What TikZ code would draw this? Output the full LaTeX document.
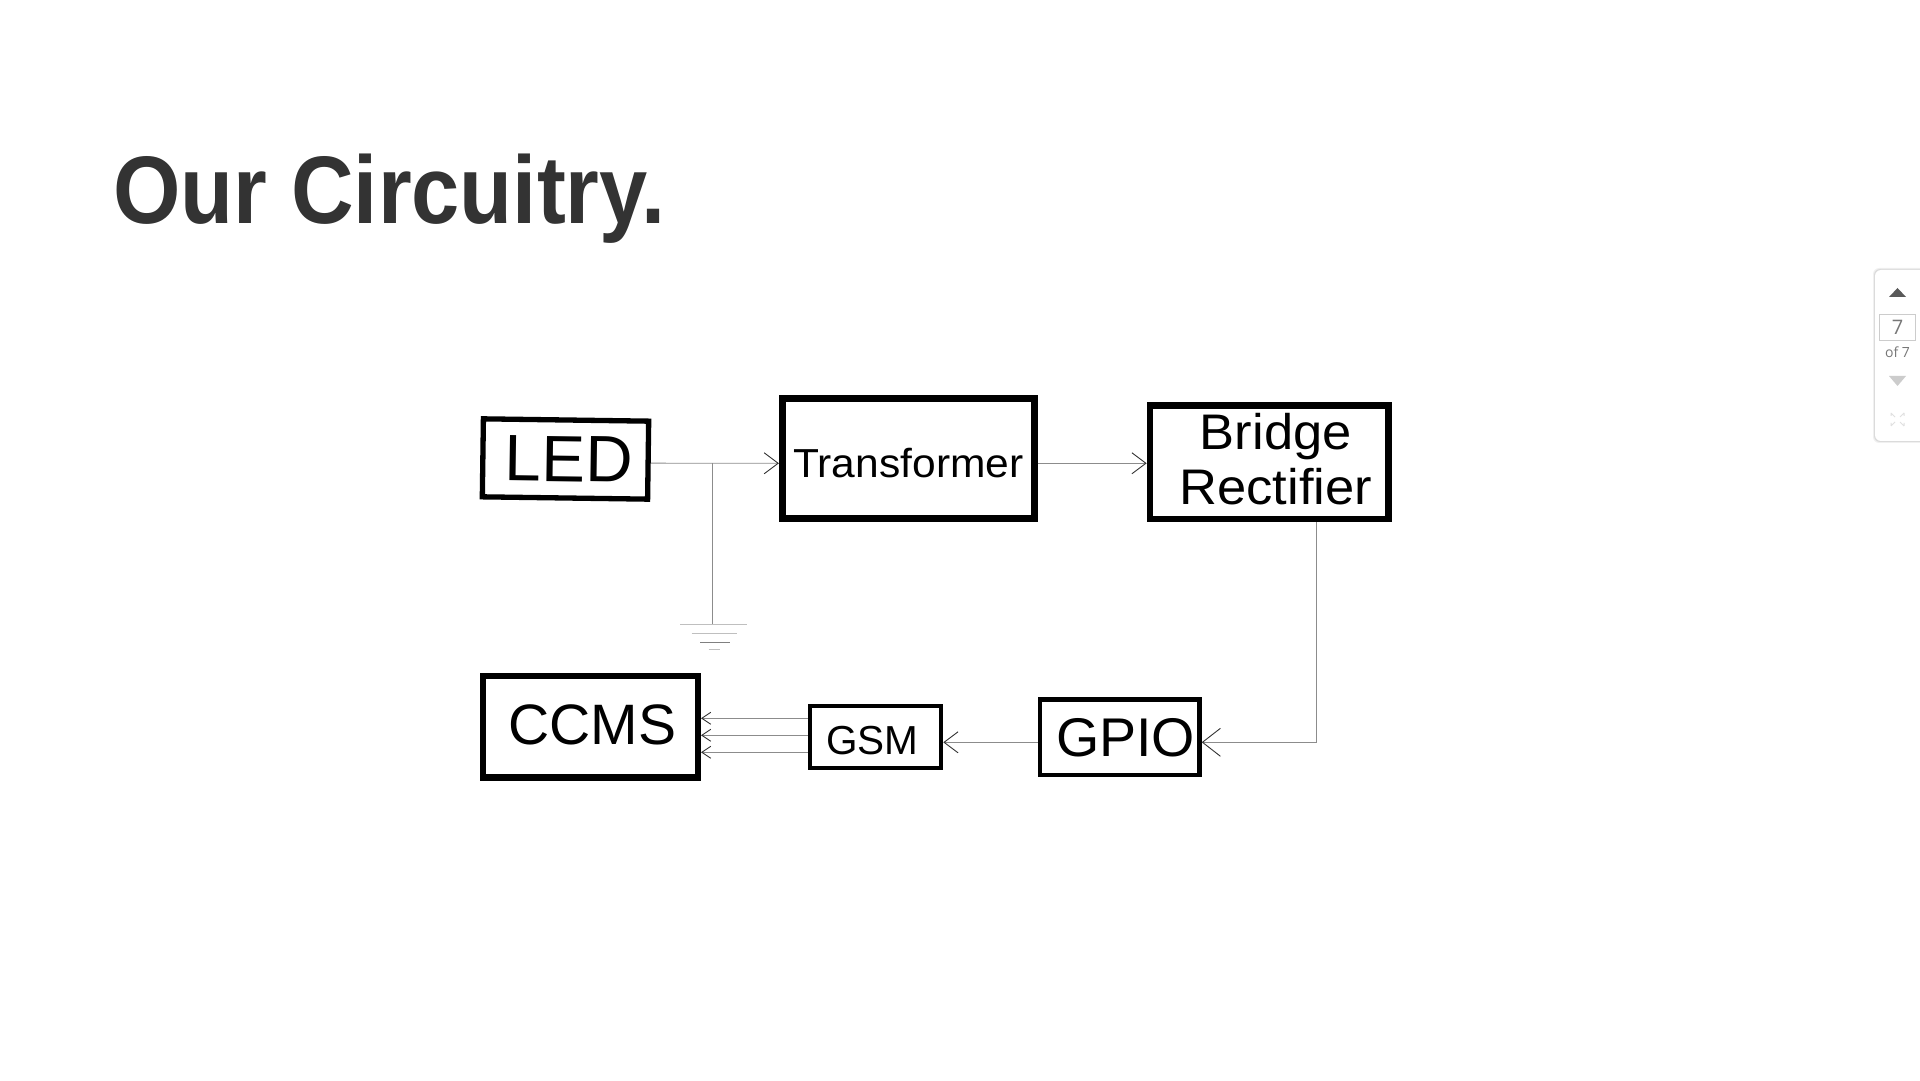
\documentclass[tikz,border=0pt]{standalone}
\usepackage{fontspec}
\usepackage{graphicx}
\usetikzlibrary{arrows.meta}
\usetikzlibrary{positioning}
\setmainfont{Liberation Sans}
\newfontfamily\panelfont{Open Sans}
\definecolor{titlegray}{HTML}{333333}
\definecolor{wiregray}{HTML}{8C8C8C}
\definecolor{tipgray}{HTML}{333333}
\definecolor{panelgray}{HTML}{777777}
\newcommand{\blocktext}[4]{\raisebox{#2}[0pt][0pt]{\makebox[0pt]{\hspace*{#1}\scalebox{#3}[1]{#4}}}}

\begin{document}
\begin{tikzpicture}[
		x=1pt,
		y=1pt,
		main node/.style={draw=black,rectangle,inner sep=0pt},
		wire/.style={draw=wiregray,line width=.9pt},
		big tip/.style={-{Straight Barb[length=18pt,width=28pt,color=tipgray]}},
		mid tip/.style={-{Straight Barb[length=14pt,width=21pt,color=tipgray]}},
		small tip/.style={-{Straight Barb[length=9pt,width=12pt,color=tipgray]}}
		]
		\useasboundingbox (0,0) rectangle (1920,1080);
		\node (ntitle) [anchor=base west,inner sep=0pt,text=titlegray] at (113,856) {\bfseries\fontsize{96}{96}\selectfont\scalebox{.903}[1]{Our Circuitry.}};
		
		\node[main node,line width=5.3pt,minimum width=165.3pt,minimum height=78pt,rotate=-.8,font=\fontsize{65.5}{65.5}\selectfont] (nled) at (565.5,621) {\blocktext{7pt}{-22.7pt}{1}{LED}};
		\node[main node,line width=7pt,minimum width=252pt,minimum height=120pt,font=\fontsize{40.5}{40.5}\selectfont] (ntransformer) [node distance=342.9pt,right of=nled,yshift=.2pt] {\blocktext{0pt}{-18.5pt}{1.05}{Transformer}};
		\node[main node,line width=6.5pt,minimum width=238.8pt,minimum height=113.5pt,font=\fontsize{50}{55}\selectfont] (nbridge) [node distance=360.9pt,right of=ntransformer,yshift=-3.5pt] {\blocktext{13pt}{-42.7pt}{1.05}{\begin{tabular}[b]{@{}c@{}}Bridge\\Rectifier\end{tabular}}};
		\node[main node,line width=6.3pt,minimum width=214.7pt,minimum height=101.7pt,font=\fontsize{57}{57}\selectfont] (nccms) at (590.5,353.3) {\blocktext{3.4pt}{-17.6pt}{1}{CCMS}};
		\node[main node,line width=4pt,minimum width=131.8pt,minimum height=62pt,font=\fontsize{40.5}{40.5}\selectfont] (ngsm) [node distance=284.9pt,right of=nccms,yshift=-10.3pt] {\blocktext{-6pt}{-17.3pt}{1}{GSM}};
		\node[main node,line width=4.5pt,minimum width=159.5pt,minimum height=75.5pt,font=\fontsize{54.5}{54.5}\selectfont] (ngpio) [node distance=244.3pt,right of=ngsm,yshift=-.3pt] {\blocktext{12pt}{-19.4pt}{1.02}{GPIO}};
		
		\coordinate (ntap) at (712.6,616.7);
		\coordinate (nground) at (712.6,456);
		
		\path[wire]
		([yshift=-3pt]nled.east) edge[mid tip] ([yshift=-4.5pt]ntransformer.west)
		([yshift=-4.5pt]ntransformer.east) edge[mid tip] ([yshift=-1pt]nbridge.west)
		([yshift=-5pt]ngpio.west) edge[mid tip] ([yshift=-5.3pt]ngsm.east)
		([yshift=18.7pt]ngsm.west) edge[small tip] ([yshift=8.4pt]nccms.east)
		([yshift=1.7pt]ngsm.west) edge[small tip] ([yshift=-8.6pt]nccms.east)
		([yshift=-15.3pt]ngsm.west) edge[small tip] ([yshift=-25.6pt]nccms.east)
		(ntap) edge (nground);
		\draw[wire,big tip] ([xshift=47pt]nbridge.south) |- ([yshift=-5pt]ngpio.east);
		
		\draw[wire,draw=lightgray] ([xshift=-32.6pt]nground) -- ([xshift=34.4pt]nground);
		\draw[wire,draw=lightgray] ([xshift=-21pt,yshift=-9pt]nground) -- ([xshift=24.4pt,yshift=-9pt]nground);
		\draw[wire,draw=gray] ([xshift=-12.6pt,yshift=-18.5pt]nground) -- ([xshift=17.4pt,yshift=-18.5pt]nground);
		\draw[wire,draw=lightgray] ([xshift=-4pt,yshift=-25pt]nground) -- ([xshift=7pt,yshift=-25pt]nground);
		
		\fill[black!6,rounded corners=6pt] (1873,637) rectangle (1930,812);
		\fill[black!14,rounded corners=6pt] (1874,638) rectangle (1930,811);
		\fill[white,rounded corners=6pt] (1875,639) rectangle (1930,810);
		\node[draw=black!20,line width=1pt,minimum width=36pt,minimum height=26pt,inner sep=0pt,text=panelgray,font=\panelfont\fontsize{20}{20}\selectfont] (npage) at (1897.5,752.7) {7};
		\node[inner sep=0pt,text=panelgray,font=\panelfont\fontsize{14}{14}\selectfont] (ntotal) at (1897.5,728) {of 7};
		\fill[black!65] (1889,783) -- (1906,783) -- (1897.5,792) -- cycle;
		\fill[black!20] (1889,704) -- (1906,704) -- (1897.5,694) -- cycle;
		\draw[black!12,line width=1pt] (1891,667) -- (1895,663) (1891,667) -- (1891,664) (1904,667) -- (1900,663) (1904,667) -- (1904,664);
		\draw[black!12,line width=1pt] (1891,654) -- (1895,658) (1891,654) -- (1891,657) (1904,654) -- (1900,658) (1904,654) -- (1904,657);
	\end{tikzpicture}
\end{document}
